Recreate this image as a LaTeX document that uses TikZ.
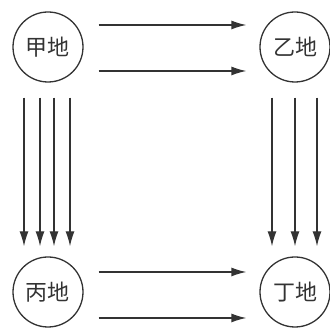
\documentclass[tikz,border=0pt]{standalone}
\usepackage{fontspec}
\newfontfamily\cjk{Noto Sans CJK SC}
\usetikzlibrary{arrows.meta}
\tikzset{place/.style={circle,draw=black!80,line width=1.3pt,minimum size=70pt,inner sep=0pt,text=black!80,font=\cjk\fontsize{22}{22}\selectfont},
    flow/.style={line width=1.3pt,draw=black!80,-{Latex[length=15pt,width=9pt]}}}
\begin{document}
\begin{tikzpicture}[x=1pt,y=1pt]
        \useasboundingbox (0,0) rectangle (330,328);
        \node[place] (jia) at (48,281) {甲地};
        \node[place] (yi) at (295,281) {乙地};
        \node[place] (bing) at (48,36) {丙地};
        \node[place] (ding) at (295,36) {丁地};
        \foreach \dy in {22,-24}
            \draw[flow] ([xshift=15pt,yshift=\dy pt]jia.east)--([xshift=-13pt,yshift=\dy pt]yi.west);
        \foreach \dy in {20,-26}
            \draw[flow] ([xshift=15pt,yshift=\dy pt]bing.east)--([xshift=-13pt,yshift=\dy pt]ding.west);
        \foreach \dx in {-24,-8,6,22}
            \draw[flow] ([xshift=\dx pt,yshift=-15pt]jia.south)--([xshift=\dx pt,yshift=10pt]bing.north);
        \foreach \dx in {-23,0,22}
            \draw[flow] ([xshift=\dx pt,yshift=-15pt]yi.south)--([xshift=\dx pt,yshift=10pt]ding.north);
    \end{tikzpicture}
\end{document}
